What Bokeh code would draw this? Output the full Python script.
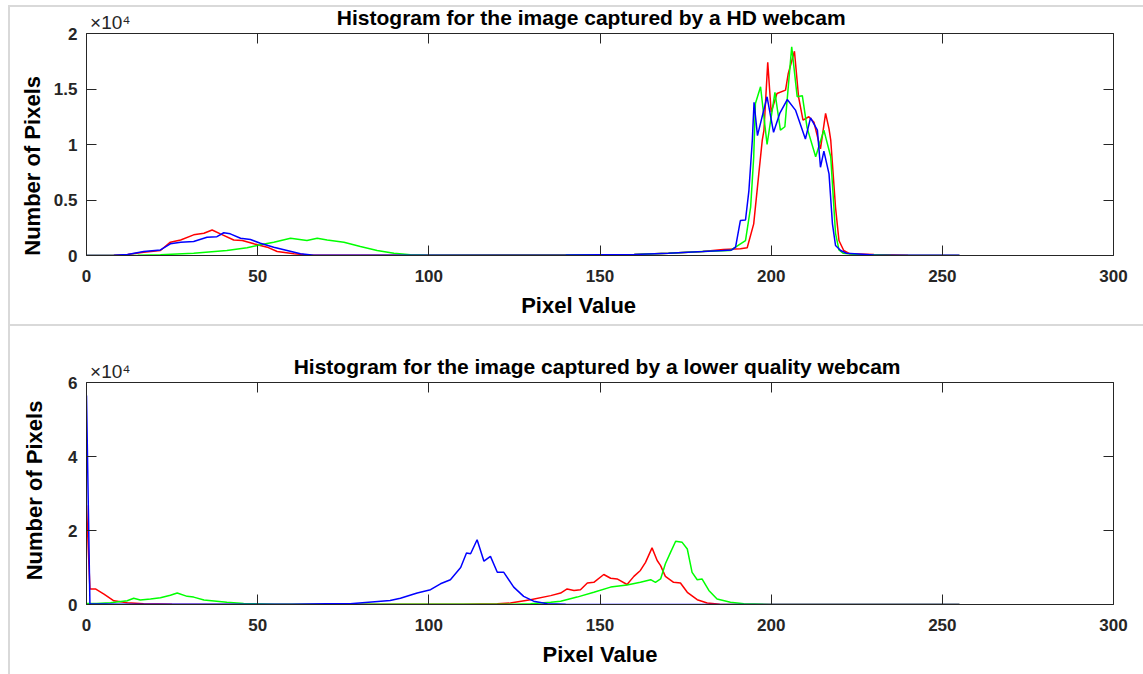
from bokeh.plotting import figure
from bokeh.models import Range1d, FixedTicker, LinearAxis
from bokeh.layouts import column
from bokeh.embed import file_html
from bokeh.resources import INLINE

# ---------------- data (pixel value, number of pixels) ----------------
titles = ["Histogram for the image captured by a HD webcam",
          "Histogram for the image captured by a lower quality webcam"]
exponent = "\u00d710\u2074"
x_ticks = [0, 50, 100, 150, 200, 250, 300]
hd_y_ticks = [0, 5000, 10000, 15000, 20000]
hd_y_labels = ["0", "0.5", "1", "1.5", "2"]
lq_y_ticks = [0, 20000, 40000, 60000]
lq_y_labels = ["0", "2", "4", "6"]

hd_red_px = [0, 8, 12, 16.7, 21.6, 24.5, 27.5, 31.3, 34.3, 36.7, 39.1, 43, 45.5, 48.9, 52.8, 55.7, 60.6, 65.4,
             80, 100, 120, 140, 160, 170, 180, 186, 191, 193, 194.9, 196.4, 197.4, 197.9, 199, 200, 201.7,
             204.2, 205, 206.8, 208, 209.3, 211, 212.5, 214.4, 215.9, 216.9, 217.4, 218.8, 219.8, 221.2,
             223, 230, 240, 255]
hd_red_n = [0, 20, 100, 300, 450, 1200, 1400, 1860, 2000, 2300, 1950, 1400, 1350, 1050, 750, 360, 150, 30,
            20, 30, 40, 50, 100, 200, 350, 550, 600, 700, 2850, 7400, 10400, 11300, 17400, 12900, 14600,
            14900, 16400, 18400, 14300, 12200, 12500, 12000, 9600, 12800, 11400, 10400, 4350, 1350, 450,
            150, 80, 30, 10]

hd_green_px = [0, 15, 21.6, 31.3, 41, 46.9, 50.8, 54.7, 59.6, 64.4, 67.4, 70.3, 75.2, 80, 84.9, 89.8, 94.6,
               100, 120, 140, 160, 170, 180, 188, 192.5, 194, 194.9, 195.4, 196.9, 198.8, 201.1, 202.7, 204,
               206, 207.6, 209.1, 210.5, 213, 215.4, 217.4, 218.8, 219.8, 221, 225, 235, 255]
hd_green_n = [0, 20, 60, 200, 450, 700, 960, 1200, 1560, 1350, 1560, 1400, 1200, 810, 450, 200, 60,
              30, 30, 50, 100, 200, 350, 450, 1350, 4350, 8850, 13700, 15200, 10000, 14700, 11300, 11600,
              18800, 14300, 14400, 11500, 8900, 11300, 8900, 2000, 500, 200, 80, 30, 10]

hd_blue_px = [0, 8, 12, 16.7, 21.6, 24.5, 27.5, 31.3, 35.2, 38.1, 40.1, 42, 45, 47.9, 50.8, 54.7, 58.6, 62.5,
              66.4, 80, 100, 120, 140, 160, 170, 180, 186, 188.5, 189.6, 191, 192.5, 193.5, 194.5, 195, 196,
              198.8, 200.7, 202.5, 204.7, 207.1, 210, 211.5, 213.5, 214.4, 215.4, 216.9, 217.9, 218.8, 220.3,
              222, 230, 240, 255]
hd_blue_n = [0, 30, 100, 360, 500, 1050, 1200, 1260, 1650, 1700, 2050, 1950, 1560, 1440, 1100, 750, 450, 150,
             30, 20, 20, 30, 50, 100, 200, 350, 450, 500, 750, 3150, 3200, 5850, 10400, 13800, 10800,
             14300, 11100, 12800, 14050, 13100, 10500, 12400, 11300, 7950, 9400, 7350, 2850, 900, 450,
             200, 50, 30, 20]

lq_red_px = [0, 1, 2.6, 5.1, 8, 11.9, 16.7, 25, 40, 60, 90, 110, 120, 123.8, 129.7, 135.6, 138.5, 140.4,
             142.4, 144.3, 146.3, 148.2, 151.1, 153.1, 155, 157.9, 159.9, 161.8, 163.3, 165.2, 166.7, 167.7,
             169.1, 171.5, 173.5, 175.5, 178.4, 181.3, 185, 195, 255]
lq_red_n = [26800, 4200, 4200, 2800, 1000, 500, 200, 80, 30, 20, 50, 100, 200, 400, 1300, 2400, 3100, 4200,
            3800, 4000, 5800, 6000, 8100, 7100, 6900, 5400, 7600, 9200, 11400, 15300, 11900, 10500,
            7600, 6000, 5800, 3300, 1300, 400, 100, 20, 0]

lq_green_px = [0, 3, 7, 11.9, 13.8, 15.7, 18.7, 21.6, 24.5, 26.5, 29.4, 31.3, 34.3, 41, 45.9, 55, 80, 110,
               125, 129.7, 135.6, 138.5, 143.3, 148.2, 153.1, 157.9, 161.8, 164.8, 166.2, 167.7, 169.1,
               170.6, 172.1, 174, 175.5, 176.9, 178.4, 179.8, 181.8, 184.2, 188.1, 192, 200, 255]
lq_green_n = [300, 300, 500, 1000, 1700, 1200, 1500, 1800, 2500, 3100, 2200, 2000, 1200, 600, 300, 100, 50, 50,
              100, 200, 600, 900, 2000, 3300, 4700, 5300, 6000, 6700, 6000, 6900, 11000,
              14100, 17100, 16800, 15000, 8700, 6700, 6900, 3800, 1500, 600, 200, 30, 0]

lq_blue_px = [0, 1, 10, 30, 50, 60, 70, 77, 86, 88.7, 91.7, 96.6, 100.5, 103.4, 106.3, 109.3, 111, 112.2,
              114.1, 116.1, 118, 120, 121.9, 124.8, 127.7, 130.6, 134.6, 140, 255]
lq_blue_n = [56500, 200, 100, 50, 50, 100, 200, 200, 900, 1100, 1700, 3100, 4000, 5600, 6700, 10000, 13900, 13700,
             17500, 11700, 13000, 8700, 8700, 4700, 2200, 900, 200, 50, 0]

FONT = "Liberation Sans"
AX = "#262626"
NB = "\u00a0"


def style_axis(ax):
    ax.axis_line_color = AX
    ax.axis_line_width = 1
    ax.major_tick_line_color = AX
    ax.major_tick_in = 10
    ax.major_tick_out = 0
    ax.minor_tick_line_color = None
    ax.major_label_text_font = FONT
    ax.major_label_text_color = AX


def make_panel(title, series, y_max, y_ticks, y_labels, height, top, bottom, ylab_standoff,
               xlab_pad, ylab_pad_end, ylab_pad_start, title_pad, shadow):
    p = figure(width=1143, height=height, output_backend="svg", toolbar_location=None,
               x_range=Range1d(0, 300), y_range=Range1d(0, y_max),
               min_border_left=86, min_border_right=30, min_border_top=top, min_border_bottom=bottom)
    p.grid.visible = False
    p.outline_line_color = None
    p.border_fill_color = None
    p.background_fill_color = "white"
    p.styles = {"background-color": "white", "box-shadow": shadow}

    xa = p.xaxis[0]
    ya = p.yaxis[0]
    xa.ticker = FixedTicker(ticks=x_ticks)
    ya.ticker = FixedTicker(ticks=y_ticks)
    ya.major_label_overrides = {t: l for t, l in zip(y_ticks, y_labels)}
    for a in (xa, ya):
        style_axis(a)
        a.major_label_text_font_style = "bold"
        a.major_label_text_font_size = "17px"
        a.axis_label_text_font = FONT
        a.axis_label_text_font_style = "bold"
        a.axis_label_text_font_size = "22px"
        a.axis_label_text_color = "black"
    xa.major_label_standoff = 14
    ya.major_label_standoff = 9
    xa.axis_label = "Pixel Value" + NB * xlab_pad
    ya.axis_label = NB * ylab_pad_start + "Number of Pixels" + NB * ylab_pad_end
    xa.axis_label_standoff = 8
    ya.axis_label_standoff = ylab_standoff

    # right axis: mirrored inward ticks, no labels
    ra = LinearAxis(ticker=FixedTicker(ticks=y_ticks))
    style_axis(ra)
    ra.major_label_text_font_size = "1px"
    ra.major_label_text_color = None
    ra.major_label_standoff = 0
    p.add_layout(ra, "right")

    # top axis: mirrored inward ticks, exponent marker and title
    ta = LinearAxis(ticker=FixedTicker(ticks=x_ticks))
    style_axis(ta)
    ta.major_label_overrides = {t: (NB * 9 + exponent if t == 0 else "") for t in x_ticks}
    ta.major_label_text_font_size = "19px"
    ta.major_label_standoff = 1
    ta.axis_label = title + NB * title_pad
    ta.axis_label_text_font = FONT
    ta.axis_label_text_font_style = "bold"
    ta.axis_label_text_font_size = "21px"
    ta.axis_label_text_color = "black"
    ta.axis_label_standoff = -20
    p.add_layout(ta, "above")

    for px, n, c in series:
        p.line(px, n, line_color=c, line_width=1.5)
    return p


p1 = make_panel(titles[0],
                [(hd_red_px, hd_red_n, "#ff0000"), (hd_green_px, hd_green_n, "#00ff00"),
                 (hd_blue_px, hd_blue_n, "#0000ff")],
                20000, hd_y_ticks, hd_y_labels, 324, 33, 69, 6,
                7, 7, 0, 3,
                "inset 8px 5px 0 0 white, inset 10px 7px 0 0 #d9d9d9")
p2 = make_panel(titles[1],
                [(lq_red_px, lq_red_n, "#ff0000"), (lq_green_px, lq_green_n, "#00ff00"),
                 (lq_blue_px, lq_blue_n, "#0000ff")],
                60000, lq_y_ticks, lq_y_labels, 350, 58, 70, 18,
                0, 0, 1, 1,
                "inset 8px 0 0 0 white, inset 10px 2px 0 0 #d9d9d9")

layout = column(p1, p2, spacing=0)
open("out.html", "w").write(file_html(layout, INLINE))
